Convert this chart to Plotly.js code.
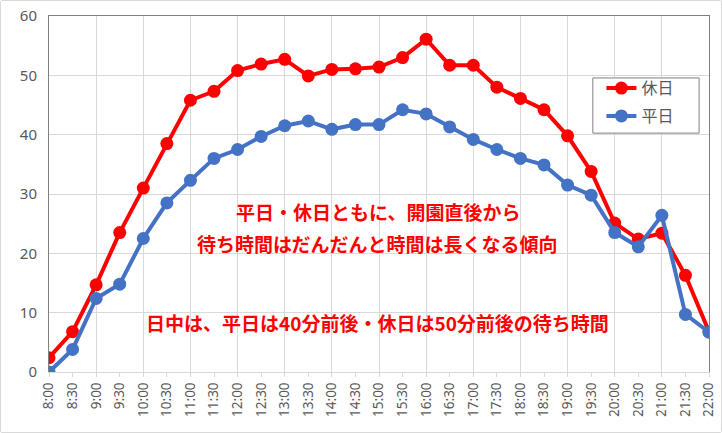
<!DOCTYPE html>
<html>
<head>
<meta charset="utf-8">
<script src="https://cdn.plot.ly/plotly-3.0.1.min.js"></script>
<style>
html,body{margin:0;padding:0;background:#fff;}
#chart{width:720px;height:431px;border:1px solid #d9d9d9;border-radius:2px;}
</style>
</head>
<body>
<div id="chart"></div>
<script>
var times = ["8:00","8:30","9:00","9:30","10:00","10:30","11:00","11:30","12:00","12:30","13:00","13:30","14:00","14:30","15:00","15:30","16:00","16:30","17:00","17:30","18:00","18:30","19:00","19:30","20:00","20:30","21:00","21:30","22:00"];
var holiday = [2.4,6.8,14.7,23.5,31.0,38.5,45.8,47.3,50.8,51.9,52.7,49.9,51.0,51.1,51.4,53.0,56.1,51.7,51.7,48.0,46.1,44.2,39.8,33.8,25.1,22.4,23.4,16.3,6.8];
var weekday = [0.0,3.8,12.4,14.8,22.5,28.5,32.3,36.0,37.5,39.7,41.5,42.3,40.9,41.7,41.7,44.2,43.5,41.3,39.2,37.5,36.0,34.9,31.5,29.8,23.5,21.1,26.4,9.7,6.7];
var seriesNames = ["休日","平日"];
var notes = ["平日・休日ともに、開園直後から","待ち時間はだんだんと時間は長くなる傾向","日中は、平日は40分前後・休日は50分前後の待ち時間"];

var jp = '"Noto Sans CJK JP", "Noto Sans", sans-serif';
var traces = [
  {x: times, y: holiday, name: seriesNames[0], legendgroup: 'g1', type: 'scatter', mode: 'lines+markers',
   line: {color: '#ff0000', width: 4}, marker: {color: '#ff0000', size: 13}},
  {x: times, y: weekday, name: seriesNames[1], legendgroup: 'g2', type: 'scatter', mode: 'lines+markers',
   line: {color: '#4472c4', width: 4}, marker: {color: '#4472c4', size: 13}}
];
var layout = {
  width: 720, height: 431,
  margin: {l: 48, r: 12, t: 15, b: 60},
  paper_bgcolor: '#ffffff', plot_bgcolor: '#ffffff',
  showlegend: true,
  legend: {x: 0.837, y: 0.845, xanchor: 'left', yanchor: 'top',
    borderwidth: 0, bgcolor: 'rgba(0,0,0,0)',
    font: {family: jp, size: 16, color: '#595959'}, itemwidth: 30, tracegroupgap: 4},
  shapes: [
    {type: 'rect', xref: 'paper', yref: 'paper', x0: 0.824, x1: 0.985, y0: 0.671, y1: 0.826,
     line: {color: '#808080', width: 1}, fillcolor: '#ffffff', layer: 'above'}
  ],
  xaxis: {type: 'category', showgrid: false, zeroline: false,
    showline: true, linecolor: '#d9d9d9', linewidth: 1,
    ticks: 'outside', ticklen: 4, tickcolor: '#d9d9d9',
    tickangle: -90, tickfont: {family: '"Noto Sans", sans-serif', size: 13.5, color: '#595959'},
    range: [0, 28], fixedrange: true},
  xaxis2: {overlaying: 'x', type: 'linear', range: [0, 28], tickmode: 'linear', tick0: 0, dtick: 2,
    showgrid: true, gridcolor: '#d9d9d9', gridwidth: 1, showticklabels: false, ticks: '',
    side: 'top', showline: true, linecolor: '#808080', zeroline: false},
  yaxis: {range: [0, 60], dtick: 10, showgrid: true, gridcolor: '#d9d9d9', zeroline: false,
    showline: true, linecolor: '#808080', mirror: true, ticks: '',
    tickfont: {family: '"Noto Sans", sans-serif', size: 15, color: '#595959'}, ticklabelstandoff: 8},
  annotations: [
    {text: notes[0], xref: 'paper', yref: 'y', x: 0.498, y: 27.0, showarrow: false,
     font: {family: jp, size: 19, color: '#ff0000', weight: 'bold'}},
    {text: notes[1], xref: 'paper', yref: 'y', x: 0.498, y: 21.6, showarrow: false,
     font: {family: jp, size: 19, color: '#ff0000', weight: 'bold'}},
    {text: notes[2], xref: 'paper', yref: 'y', x: 0.498, y: 8.3, showarrow: false,
     font: {family: jp, size: 19, color: '#ff0000', weight: 'bold'}}
  ]
};
// invisible helper trace so the grid axis is drawn
traces.push({x: [0, 28], y: [null, null], xaxis: 'x2', yaxis: 'y', showlegend: false, hoverinfo: 'skip', mode: 'lines'});
Plotly.newPlot('chart', traces, layout, {displayModeBar: false, staticPlot: true});
</script>
</body>
</html>
